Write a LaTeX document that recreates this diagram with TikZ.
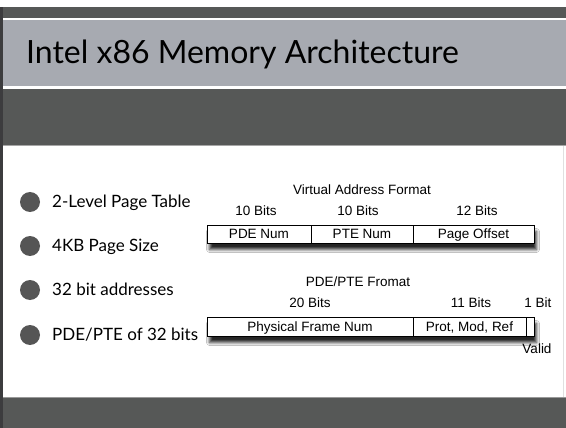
\documentclass[tikz,border=0pt]{standalone}
\usepackage{fontspec}
\setmainfont{Liberation Sans}
\newfontfamily\titlefont{Lato}
\usetikzlibrary{shadows.blur}
\definecolor{bandgray}{HTML}{A7AAB1}
\definecolor{darkband}{HTML}{565857}
\definecolor{edgedark}{HTML}{3C3C3E}
\definecolor{bulletgray}{HTML}{555555}
\tikzset{
  bitlabel/.style={font=\fontsize{13.5}{15}\selectfont, inner sep=0pt, anchor=base},
  headlabel/.style={font=\fontsize{13.5}{15}\selectfont, inner sep=0pt, anchor=base},
  fieldbox/.style={draw=black, line width=1pt, fill=white, inner sep=0pt,
    blur shadow={shadow xshift=2pt, shadow yshift=-6pt, shadow blur steps=6, shadow blur radius=3pt, shadow opacity=85}},
  fieldtext/.style={font=\fontsize{13.5}{15}\selectfont, inner sep=0pt, anchor=base},
  divider/.style={line width=1pt},
  bulletdot/.style={circle, fill=bulletgray, minimum size=20pt, inner sep=0pt},
  bullettext/.style={font=\titlefont\fontsize{17}{20}\selectfont, inner sep=0pt, anchor=base west},
}
\begin{document}
\begin{tikzpicture}[x=1pt, y=-1pt]
\useasboundingbox (0,0) rectangle (566,428);
\fill[white] (0,0) rectangle (566,428);
% frame bands
\fill[darkband] (0,7) rectangle (566,18);
\fill[white] (0,18) rectangle (566,20);
\fill[bandgray] (0,20) rectangle (566,86);
\fill[white] (0,86) rectangle (566,89);
\fill[darkband] (0,89) rectangle (566,145);
\fill[black!35] (0,145) rectangle (566,146.5);
\fill[darkband] (0,397) rectangle (566,428);
\fill[black!40] (0,396.5) rectangle (566,397.5);
\fill[edgedark] (0,7) rectangle (2.5,428);
\fill[black!12] (562.5,146.5) rectangle (563.5,396.5);
% title
\node[font=\titlefont\fontsize{32}{38}\selectfont, anchor=base west, inner sep=0pt] (title) at (26,64) {Intel x86 Memory Architecture};
% bullets
\foreach \i/\yy/\txt in {1/202/{2-Level Page Table}, 2/246/{4KB Page Size}, 3/290/{32 bit addresses}, 4/335/{PDE/PTE of 32 bits}}{
  \node[bulletdot] (dot\i) at (30,\yy) {};
  \node[bullettext] (item\i) at (52,\yy+5.5) {\txt};
}
% virtual address format
\node[headlabel] (vaf) at (362,194) {Virtual Address Format};
\node[bitlabel] (b1) at (256,215.5) {10 Bits};
\node[bitlabel] (b2) at (358,215.5) {10 Bits};
\node[bitlabel] (b3) at (477,215.5) {12 Bits};
\node[fieldbox, minimum width=327pt, minimum height=18pt, anchor=north west] (vbox) at (207,225) {};
\draw[divider] (vbox.north west) ++(104,0) coordinate (d1t) -- ++(0,18);
\draw[divider] (vbox.north west) ++(206,0) coordinate (d2t) -- ++(0,18);
\node[fieldtext] (f1) at (259,239) {PDE Num};
\node[fieldtext] (f2) at (362,239) {PTE Num};
\node[fieldtext] (f3) at (473.5,239) {Page Offset};
% PDE/PTE format
\node[headlabel] (pf) at (358,287) {PDE/PTE Fromat};
\node[bitlabel] (c1) at (310,307) {20 Bits};
\node[bitlabel] (c2) at (471,307) {11 Bits};
\node[bitlabel] (c3) at (538,307) {1 Bit};
\node[fieldbox, minimum width=327pt, minimum height=19pt, anchor=north west] (pbox) at (207,317) {};
\draw[divider] (pbox.north west) ++(206,0) coordinate (e1t) -- ++(0,19);
\draw[divider] (pbox.north west) ++(319,0) coordinate (e2t) -- ++(0,19);
\node[fieldtext] (g1) at (310,331.5) {Physical Frame Num};
\node[fieldtext] (g2) at (469.5,331.5) {Prot, Mod, Ref};
\node[bitlabel] (valid) at (537,353) {Valid};
\end{tikzpicture}
\end{document}
